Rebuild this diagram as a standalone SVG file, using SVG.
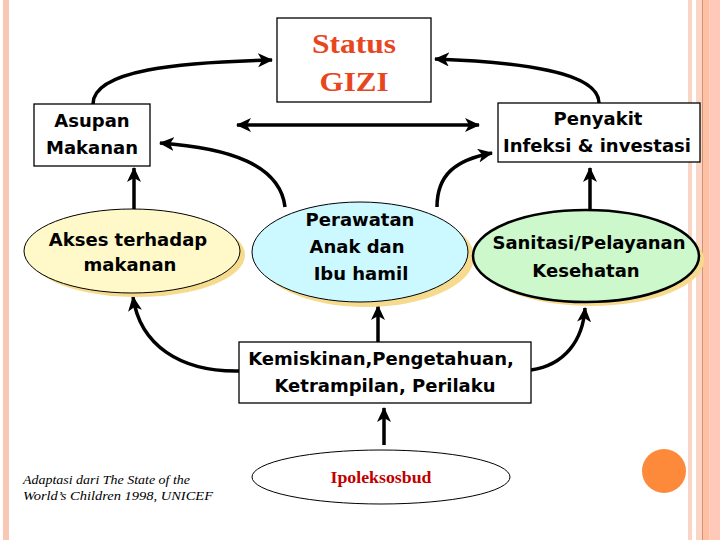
<svg xmlns="http://www.w3.org/2000/svg" width="720" height="540" viewBox="0 0 720 540">
<style>
.lbl{font-family:"DejaVu Sans",sans-serif;font-weight:bold;font-size:18px;fill:#000;text-anchor:middle}
.box{fill:#fff;stroke:#000;stroke-width:1.3}
.con{fill:none;stroke:#000;stroke-width:3.5}
.shadow{fill:#F6DA8E}
</style>
<defs>
<marker id="ah" markerUnits="userSpaceOnUse" markerWidth="16" markerHeight="14" viewBox="0 0 16 14" refX="14" refY="7" orient="auto-start-reverse">
<path d="M0,0 L15,7 L0,14 L4,7 Z" fill="#000"/>
</marker>
</defs>
<rect x="0" y="0" width="720" height="540" fill="#fff"/>
<g id="border">
<rect x="3" y="0" width="6" height="540" fill="#F8C8B4"/>
<rect x="688" y="0" width="4" height="540" fill="#FAD4C4"/>
<rect x="696" y="0" width="6" height="540" fill="#FBD5C5"/>
<rect x="702" y="0" width="1.5" height="540" fill="#D9906E"/>
<rect x="703.5" y="0" width="6" height="540" fill="#FFC0A2"/>
<rect x="709.5" y="0" width="10.5" height="540" fill="#FFC8B8"/>
<circle cx="664" cy="471" r="22" fill="#FD8A3A"/>
</g>
<g id="connectors">
<path class="con" d="M93,104 C93,70 180,62 272,60" marker-end="url(#ah)"/>
<path class="con" d="M599,103 C599,72 520,62 435,59" marker-end="url(#ah)"/>
<path class="con" d="M237,125 L479,125" marker-start="url(#ah)" marker-end="url(#ah)"/>
<path class="con" d="M134,210 L134,168" marker-end="url(#ah)"/>
<path class="con" d="M590,210 L590,168" marker-end="url(#ah)"/>
<path class="con" d="M285,207 C280,165 230,148 160,143" marker-end="url(#ah)"/>
<path class="con" d="M437,207 C437,175 455,160 492,153" marker-end="url(#ah)"/>
<path class="con" d="M378,342 L378,306" marker-end="url(#ah)"/>
<path class="con" d="M239,371 C180,372 140,345 133,297" marker-end="url(#ah)"/>
<path class="con" d="M531,370 C565,365 583,340 585,308" marker-end="url(#ah)"/>
<path class="con" d="M384,445 L384,408" marker-end="url(#ah)"/>
</g>
<g id="status">
<rect class="box" x="277" y="18" width="154" height="84"/>
<text x="354" y="53" font-family="'Liberation Serif',serif" font-weight="bold" font-size="28" fill="#E8461E" text-anchor="middle" textLength="84" lengthAdjust="spacingAndGlyphs">Status</text>
<text x="354" y="91" font-family="'Liberation Serif',serif" font-weight="bold" font-size="28" fill="#E8461E" text-anchor="middle" textLength="69" lengthAdjust="spacingAndGlyphs">GIZI</text>
</g>
<g id="asupan">
<rect class="box" x="34" y="104" width="116" height="62"/>
<text class="lbl" x="92" y="127">Asupan</text>
<text class="lbl" x="92" y="154">Makanan</text>
</g>
<g id="penyakit">
<rect class="box" x="498" y="103" width="202" height="59"/>
<text class="lbl" x="598" y="125">Penyakit</text>
<text class="lbl" x="597" y="152">Infeksi &amp; investasi</text>
</g>
<g id="akses">
<ellipse class="shadow" cx="137" cy="255" rx="108" ry="42"/>
<ellipse cx="132" cy="251" rx="108" ry="42" fill="#FFF8C8" stroke="#000" stroke-width="1"/>
<text class="lbl" x="128" y="246">Akses terhadap</text>
<text class="lbl" x="130" y="271">makanan</text>
</g>
<g id="perawatan">
<ellipse class="shadow" cx="366" cy="257" rx="108" ry="50"/>
<ellipse cx="360" cy="252" rx="108" ry="50" fill="#CCF8FF" stroke="#000" stroke-width="1"/>
<text class="lbl" x="360" y="226">Perawatan</text>
<text class="lbl" x="357" y="253">Anak dan</text>
<text class="lbl" x="361" y="280">Ibu hamil</text>
</g>
<g id="sanitasi">
<ellipse class="shadow" cx="591" cy="260" rx="113" ry="46"/>
<ellipse cx="586" cy="256" rx="113" ry="46" fill="#CCF8CC" stroke="#000" stroke-width="2.5"/>
<text class="lbl" x="589" y="249">Sanitasi/Pelayanan</text>
<text class="lbl" x="586" y="277">Kesehatan</text>
</g>
<g id="kemiskinan">
<rect class="box" x="239" y="342" width="292" height="61" stroke-width="2"/>
<text class="lbl" x="381" y="365">Kemiskinan,Pengetahuan,</text>
<text class="lbl" x="385" y="392">Ketrampilan, Perilaku</text>
</g>
<g id="ipoleksosbud">
<ellipse cx="381" cy="477" rx="129" ry="27" fill="#fff" stroke="#000" stroke-width="1"/>
<text x="381" y="483" font-family="'Liberation Serif',serif" font-weight="bold" font-size="17" fill="#C00000" text-anchor="middle" textLength="101" lengthAdjust="spacingAndGlyphs">Ipoleksosbud</text>
</g>
<g id="caption" font-family="'Liberation Serif',serif" font-style="italic" font-size="13" fill="#000">
<text x="23" y="484" textLength="167" lengthAdjust="spacingAndGlyphs">Adaptasi dari The State of the</text>
<text x="23" y="500" textLength="190" lengthAdjust="spacingAndGlyphs">World’s Children 1998, UNICEF</text>
</g>
</svg>
